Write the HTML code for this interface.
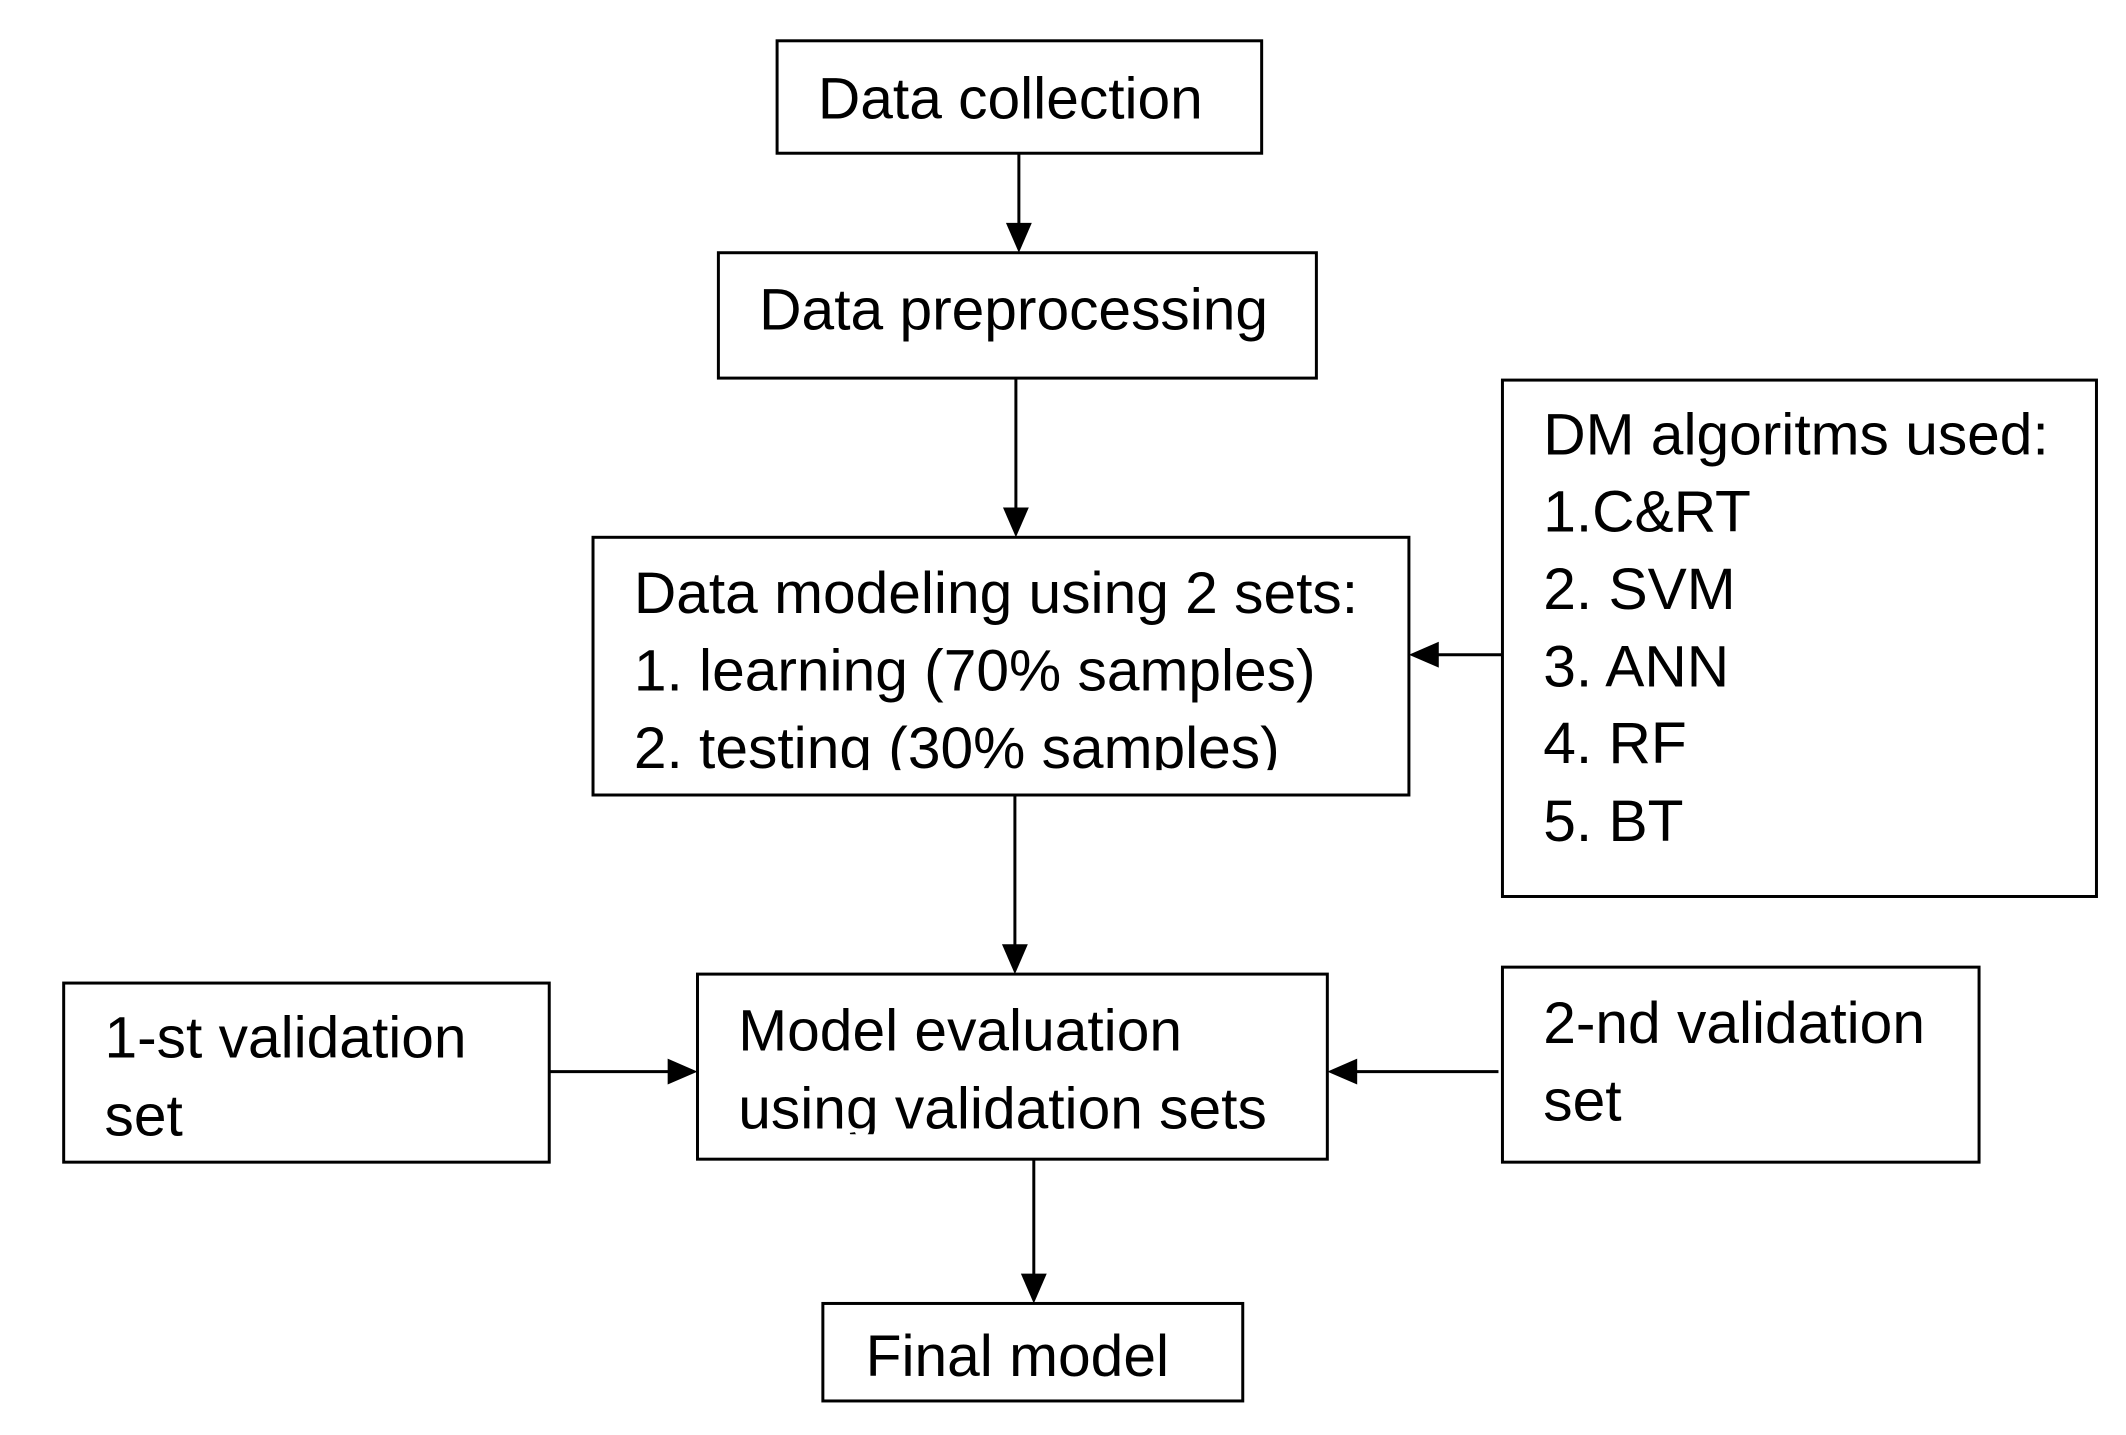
<!DOCTYPE html>
<html><head><style>
body{margin:0;background:#fff;}
svg{display:block}
text{font-family:"Liberation Sans",Arial,sans-serif;font-size:59px;fill:#000}
</style></head><body>
<svg width="2126" height="1435" xmlns="http://www.w3.org/2000/svg">
<defs>
<clipPath id="c1"><rect x="596" y="540" width="820" height="234"/></clipPath>
<clipPath id="c2"><rect x="701" y="979" width="633" height="161"/></clipPath>
</defs>
<g transform="scale(0.995)">
<g fill="none" stroke="#000" stroke-width="3">
<rect x="781" y="41" width="487" height="113"/>
<rect x="722" y="254" width="601" height="126"/>
<rect x="596" y="540" width="820" height="259"/>
<rect x="1510" y="382" width="597" height="519"/>
<rect x="701" y="979" width="633" height="186"/>
<rect x="64" y="988" width="488" height="180"/>
<rect x="1510" y="972" width="479" height="196"/>
<rect x="827" y="1310" width="422" height="98"/>
<line x1="1024" y1="154" x2="1024" y2="226"/>
<line x1="1021" y1="380" x2="1021" y2="512"/>
<line x1="1020" y1="799" x2="1020" y2="951"/>
<line x1="1039" y1="1165" x2="1039" y2="1282"/>
<line x1="1510" y1="658" x2="1444" y2="658"/>
<line x1="552" y1="1077" x2="673" y2="1077"/>
<line x1="1506" y1="1077" x2="1362" y2="1077"/>
</g>
<g fill="#000">
<polygon points="1011,224 1037,224 1024,254"/>
<polygon points="1008,510 1034,510 1021,540"/>
<polygon points="1007,949 1033,949 1020,979"/>
<polygon points="1026,1280 1052,1280 1039,1310"/>
<polygon points="1446,645 1446,671 1416,658"/>
<polygon points="671,1064 671,1090 701,1077"/>
<polygon points="1364,1064 1364,1090 1334,1077"/>
</g>
<text x="822" y="119">Data collection</text>
<text x="763" y="331">Data preprocessing</text>
<g clip-path="url(#c1)">
<text x="637" y="616">Data modeling using 2 sets:</text>
<text x="637" y="694">1. learning (70% samples)</text>
<text x="637" y="772">2. testing (30% samples)</text>
</g>
<text x="1551" y="457">DM algoritms used:</text>
<text x="1551" y="534">1.C&amp;RT</text>
<text x="1551" y="612">2. SVM</text>
<text x="1551" y="690">3. ANN</text>
<text x="1551" y="767">4. RF</text>
<text x="1551" y="845">5. BT</text>
<g clip-path="url(#c2)">
<text x="742" y="1056">Model evaluation</text>
<text x="742" y="1134">using validation sets</text>
</g>
<text x="105" y="1063">1-st validation</text>
<text x="105" y="1141">set</text>
<text x="1551" y="1048">2-nd validation</text>
<text x="1551" y="1126">set</text>
<text x="870" y="1383">Final model</text>
</g>
</svg>
</body></html>
